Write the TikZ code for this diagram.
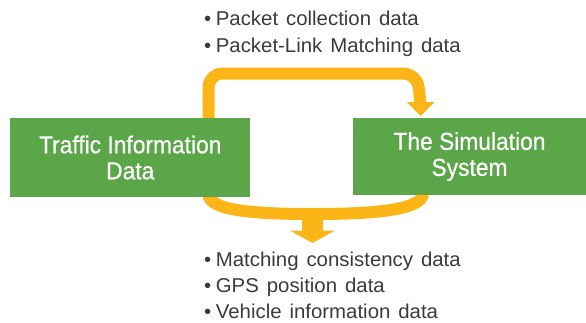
\documentclass[tikz,border=0pt]{standalone}
\usepackage{fontspec}
\setmainfont{Liberation Sans}
\newfontfamily\boxfont[FakeStretch=0.93, FakeBold=0.6]{Liberation Sans}
\newfontfamily\listfont[FakeStretch=1.02, WordSpace=1.4]{Liberation Sans}
\usetikzlibrary{calc}
\definecolor{boxgreen}{RGB}{91,166,72}
\definecolor{flowyellow}{RGB}{252,181,22}
\definecolor{listgray}{RGB}{58,58,58}
\newcommand{\itemdot}{•\hspace{4.5pt}}
\tikzset{
  databox/.style={fill=boxgreen, draw=none, inner sep=0pt, align=center,
    text=white, font=\boxfont\fontsize{24.5}{26}\selectfont},
  flowline/.style={draw=flowyellow, line width=12pt, line cap=butt},
  flowhead/.style={fill=flowyellow, draw=none},
  listitem/.style={anchor=base west, inner sep=0pt, text=listgray,
    font=\listfont\fontsize{20}{24}\selectfont}
}
\begin{document}
\begin{tikzpicture}[x=1pt, y=-1pt]
\useasboundingbox (0,0) rectangle (586,322);

% endpoints of the two flows
\coordinate (upstart) at (208.5,120);
\coordinate (upend)   at (420.5,103);
\coordinate (lowleft) at (208.5,194);
\coordinate (lowright) at (423,193);
\coordinate (lowmid)  at (312.5,214);

% upper flow: from the traffic data box over to the simulation box
\draw[flowline, rounded corners=14pt] (upstart) |- (417,73.5) -- (upend);
\fill[flowhead] (407,102) -- (434.5,102) -- (420.5,116) -- cycle;

% lower flow: both boxes merge into one downward arrow
\draw[flowline] (lowleft) .. controls (208.5,210) and (250,214) .. (lowmid)
  .. controls (375,214) and (423,210) .. (lowright);
\fill[flowhead] (302,214) rectangle (323,231);
\fill[flowhead] (290,230.5) -- (335,230.5) -- (312.5,243) -- cycle;

% data boxes
\node[databox, minimum width=240pt, minimum height=79.5pt] (traffic)
  at (130.25,157.5) {Traffic Information\\Data};
\node[databox, minimum width=233pt, minimum height=77.5pt] (sim)
  at (469.5,156.5) {The Simulation\\System};

% lists of exchanged data
\node[listitem] (up1) at (204,25.5) {\itemdot Packet collection data};
\node[listitem] (up2) at (204,52.5) {\itemdot Packet-Link Matching data};
\node[listitem] (dn1) at (204,266.5) {\itemdot Matching consistency data};
\node[listitem] (dn2) at (204,292.5) {\itemdot GPS position data};
\node[listitem] (dn3) at (204,318.5) {\itemdot Vehicle information data};
\end{tikzpicture}
\end{document}
